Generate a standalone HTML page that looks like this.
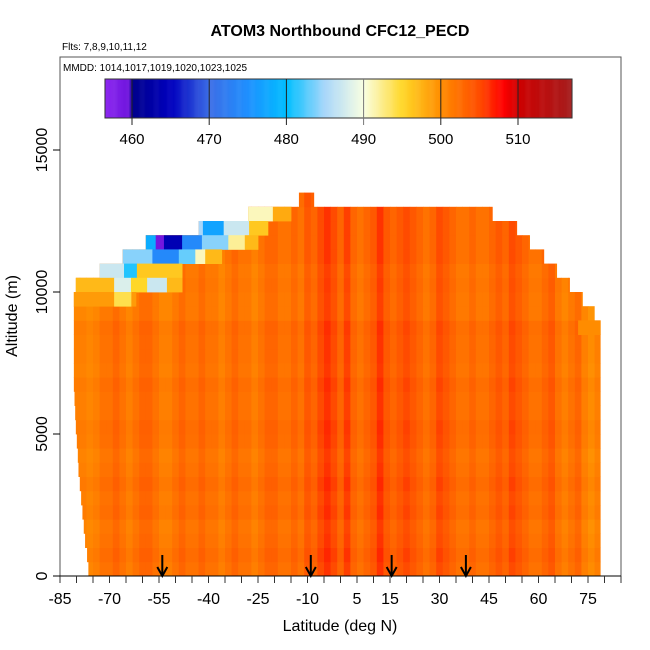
<!DOCTYPE html>
<html><head><meta charset="utf-8">
<style>
body{margin:0;background:#fff;}
svg{display:block;font-family:"Liberation Sans",sans-serif;}
</style></head>
<body>
<svg id="chart" width="650" height="650" viewBox="0 0 650 650" xmlns="http://www.w3.org/2000/svg">
<rect width="650" height="650" fill="#fff"/>
<text x="340" y="36" font-size="16" font-weight="bold" text-anchor="middle">ATOM3 Northbound CFC12_PECD</text>
<text x="62" y="50" font-size="10">Flts: 7,8,9,10,11,12</text>
<g id="heat"></g>
<g id="arrows"></g>
<rect x="60" y="57" width="561" height="519" fill="none" stroke="#555" stroke-width="1"/>
<text x="63" y="71" font-size="10">MMDD: 1014,1017,1019,1020,1023,1025</text>
<g id="cbar"></g>
<g id="axes"></g>
<text x="340" y="631" font-size="16" text-anchor="middle">Latitude (deg N)</text>
<text x="17" y="316" font-size="16" text-anchor="middle" transform="rotate(-90 17 316)">Altitude (m)</text>
</svg>
<script>
const latStart = -81;
const colBase = [
501,501,500.5,501,502,502,503,502,501,502,
503,503,502,501,501,502,503,502,502,503,
502,502,501,502,503,502,502,501,502,503,
503,502,502,503,502,504,503,505,506,505,
503,505.5,503,502,503,504,506,504,503,504,
505,504,503,502,503,505,504,503,502,502,
503,502,502,503,504,503,505,504,503,502,
502,503,504,502,501,502,503,501,500,501];
const rowAlt = [0,500,1000,1500,2000,2500,3000,3500,4000,4500,5000,5500,6000,6500,7000,7500,8000,8500,9000,9500,10000,10500,11000,11500,12000,12500,13000];
const rowAnom = [0,0.5,0,-0.3,0.3,0,0.5,0,-0.3,0.2,0.4,0,0,0.3,-0.2,0,0,0.2,-0.5,-0.5,-0.3,-0.5,0,0,0,0,0.5];
const rowLatMin = [-76.4,-76.8,-77.4,-77.8,-78.2,-78.6,-79,-79.4,-79.6,-79.9,-80.2,-80.4,-80.6,-80.8,-80.8,-80.8,-80.8,-80.8,-80.8,-80.8,-80.2,-73,-66,-59,-43,-28,-12.6];
const rowLatMax = [78.7,78.7,78.7,78.7,78.7,78.7,78.7,78.7,78.7,78.7,78.7,78.7,78.7,78.7,78.7,78.7,78.7,78.7,76.9,73.3,69.4,65.5,61.6,57.3,53.4,46,-8.1];
// patches: latMin, latMax, altMin, value
const patchLat0 = [-28,-20.5, -43,-41.7,-35.4,-27.7, -59,-56,-53.5,-48,-42,-34,-29, -66,-57,-49,-44,-41, -73,-65.6,-61.7, -81,-68.6,-63.5,-58.6,-52.6, -81,-68.6, 72];
const patchLat1 = [-20.5,-15, -41.7,-35.4,-27.7,-22, -56,-53.5,-48,-42,-34,-29,-25, -57,-49,-44,-41,-36, -65.6,-61.7,-48, -68.6,-63.5,-58.6,-52.6,-48, -62,-63.5, 78.7];
const patchAlt = [12500,12500, 12000,12000,12000,12000, 11500,11500,11500,11500,11500,11500,11500, 11000,11000,11000,11000,11000, 10500,10500,10500, 10000,10000,10000,10000,10000, 9500,9500, 8500];
const patchVal = [491,498, 485,477,487,496, 478,459,464,474,484,492,497, 484,474,483,491,497, 487,481,496, 497,488,495,487,497, 499,494, 500];
const arrowLat = [-54,-9,15.5,38];
const cbTicks = [460,470,480,490,500,510];
const xTicks = [-85,-70,-55,-40,-25,-10,5,15,30,45,60,75];
const yTicks = [0,5000,10000,15000];

const NS="http://www.w3.org/2000/svg";
const X = lat => 60 + (lat + 85) * 3.3;
const Y = alt => 576 - alt * 0.0284;
const CX = v => 132 + (v - 460) * 7.72;
const stops = [[456.5,[140,40,240]],[459.5,[110,20,220]],[460,[0,0,140]],[465,[0,0,190]],[470,[60,110,230]],[475,[30,144,255]],[480,[0,191,255]],[485,[170,215,250]],[490,[250,255,225]],[495,[255,215,40]],[500,[255,140,0]],[505,[255,75,0]],[508,[255,0,0]],[510,[205,0,0]],[517,[165,30,30]]];
function color(v){
  if(v<=stops[0][0]) return `rgb(${stops[0][1]})`;
  for(let i=1;i<stops.length;i++){
    if(v<=stops[i][0]){
      const a=stops[i-1],b=stops[i],t=(v-a[0])/(b[0]-a[0]);
      const c=a[1].map((q,k)=>Math.round(q+(b[1][k]-q)*t));
      return `rgb(${c})`;
    }
  }
  return `rgb(${stops[stops.length-1][1]})`;
}
function mk(tag,attrs,parent){const e=document.createElementNS(NS,tag);for(const k in attrs)e.setAttribute(k,attrs[k]);parent.appendChild(e);return e;}

const heat=document.getElementById('heat');
rowAlt.forEach((alt,r)=>{
  colBase.forEach((b,c)=>{
    const l0=Math.max(latStart+2*c,rowLatMin[r]), l1=Math.min(latStart+2*c+2,rowLatMax[r]);
    if(l1<=l0) return;
    const e=mk('rect',{x:X(l0),y:Y(alt+500),width:X(l1)-X(l0)+0.4,height:Y(alt)-Y(alt+500)+0.4,fill:color(b+rowAnom[r])},heat);
    
    
  });
});
patchVal.forEach((v,i)=>{
  const r=rowAlt.indexOf(patchAlt[i]);
  const l0=Math.max(patchLat0[i],rowLatMin[r]), l1=Math.min(patchLat1[i],rowLatMax[r]);
  if(l1<=l0) return;
  const e=mk('rect',{x:X(l0),y:Y(patchAlt[i]+500),width:X(l1)-X(l0)+0.4,height:Y(patchAlt[i])-Y(patchAlt[i]+500)+0.4,fill:color(v)},heat);
  
  
});

const ar=document.getElementById('arrows');
arrowLat.forEach(l=>{
  const g=mk('g',{},ar);
  
  
  mk('line',{x1:X(l),y1:555,x2:X(l),y2:575,stroke:'#000','stroke-width':2},g);
  mk('path',{d:`M${X(l)-5},567 L${X(l)},576 L${X(l)+5},567`,fill:'none',stroke:'#000','stroke-width':2},g);
});

const cb=document.getElementById('cbar');
for(let v=456.5; v<517; v+=0.125){
  mk('rect',{x:CX(v),y:79,width:1.2,height:39,fill:color(v)},cb);
}
mk('rect',{x:CX(456.5),y:79,width:CX(517)-CX(456.5),height:39,fill:'none',stroke:'#333'},cb);
cbTicks.forEach(t=>{
  const ln=mk('line',{x1:CX(t),y1:79,x2:CX(t),y2:125,stroke:t===490?'#777':'#222','stroke-width':1},cb);
  
  
  const tx=mk('text',{x:CX(t),y:144,'font-size':15,'text-anchor':'middle'},cb);
  tx.textContent=t;
  
  
});

const ax=document.getElementById('axes');
mk('line',{x1:60,y1:576,x2:621,y2:576,stroke:'#000'},ax);
for(let l=-85;l<=85;l+=5){
  mk('line',{x1:X(l),y1:576,x2:X(l),y2:583,stroke:'#333'},ax);
}
xTicks.forEach(t=>{
  const tx=mk('text',{x:X(t),y:604,'font-size':16,'text-anchor':'middle'},ax);
  tx.textContent=t;
  
  
});
yTicks.forEach(t=>{
  mk('line',{x1:53,y1:Y(t),x2:60,y2:Y(t),stroke:'#000'},ax);
  const tx=mk('text',{x:47,y:Y(t),'font-size':16,'text-anchor':'middle',transform:`rotate(-90 47 ${Y(t)})`},ax);
  tx.textContent=t;
  
  
});
</script>
</body></html>
